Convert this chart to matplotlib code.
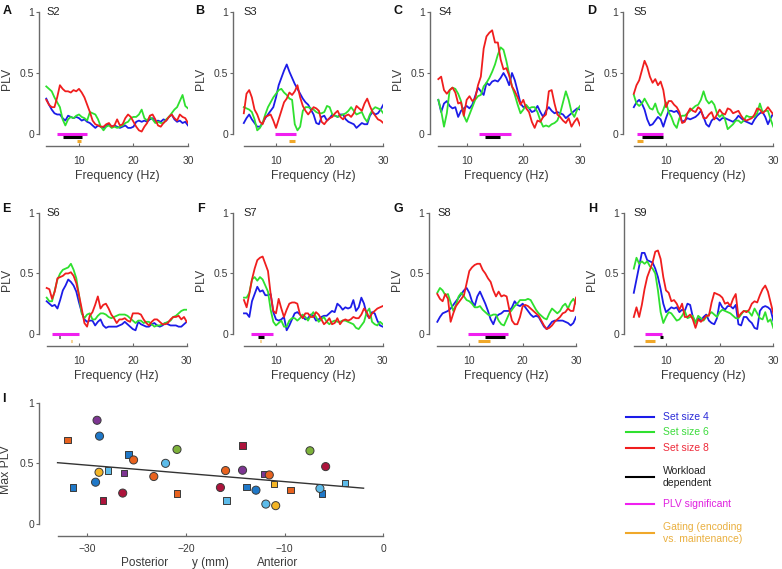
import numpy as np
import matplotlib
matplotlib.use('Agg')
import matplotlib.pyplot as plt

plt.rcParams['font.family'] = ['Liberation Sans', 'DejaVu Sans']

# ---------------- data ----------------
freq = np.arange(4, 30.01, 0.5)      # Hz (S2, S3, S5-S9)
freq_c = np.arange(5, 30.01, 0.5)    # Hz (S4)

s2_blue = [.29,.24,.20,.17,.16,.16,.13,.11,.15,.14,.13,.14,.13,.11,.12,.10,.09,.07,.05,.07,.06,.05,.07,.08,.06,.07,.06,.05,.06,.07,.05,.05,.06,.10,.11,.10,.11,.10,.12,.13,.10,.11,.10,.12,.11,.14,.16,.12,.10,.11,.09,.10,.07]
s2_green = [.39,.37,.35,.30,.26,.22,.12,.07,.12,.14,.13,.15,.16,.14,.13,.11,.18,.17,.16,.12,.06,.03,.06,.07,.05,.06,.05,.06,.07,.09,.10,.13,.14,.14,.16,.20,.13,.11,.14,.12,.09,.10,.09,.09,.12,.14,.17,.20,.22,.27,.32,.23,.21]
s2_red = [.28,.24,.22,.22,.30,.40,.37,.35,.35,.34,.36,.35,.37,.34,.30,.24,.18,.11,.08,.07,.06,.06,.08,.09,.06,.07,.12,.07,.08,.13,.16,.14,.10,.06,.03,.02,.06,.09,.15,.16,.12,.07,.06,.09,.11,.14,.16,.13,.11,.16,.14,.13,.09]

s3_blue = [.09,.13,.16,.12,.09,.06,.06,.09,.13,.16,.19,.22,.30,.40,.46,.52,.57,.51,.46,.41,.37,.33,.29,.26,.24,.20,.16,.09,.08,.14,.15,.11,.13,.16,.15,.14,.16,.16,.12,.10,.09,.08,.05,.07,.09,.08,.08,.15,.18,.16,.17,.20,.24]
s3_green = [.22,.21,.20,.18,.12,.03,.05,.09,.16,.22,.26,.30,.33,.36,.37,.34,.32,.29,.28,.08,.03,.06,.19,.22,.22,.21,.20,.18,.17,.17,.18,.23,.22,.16,.15,.14,.15,.16,.17,.19,.22,.19,.16,.17,.18,.13,.10,.16,.20,.22,.21,.20,.17]
s3_red = [.17,.33,.36,.30,.20,.16,.10,.08,.14,.15,.16,.11,.05,.12,.19,.26,.29,.34,.32,.35,.40,.30,.23,.19,.16,.19,.22,.21,.19,.10,.08,.11,.13,.14,.17,.19,.14,.12,.15,.16,.14,.17,.23,.21,.19,.25,.29,.23,.18,.15,.12,.11,.09]

s4_blue = [.28,.18,.25,.27,.23,.21,.22,.14,.19,.21,.23,.21,.24,.31,.38,.35,.32,.42,.40,.43,.44,.43,.46,.50,.46,.40,.50,.44,.35,.25,.22,.23,.21,.18,.19,.23,.18,.14,.19,.22,.19,.17,.18,.17,.16,.13,.15,.17,.19,.21,.20]
s4_green = [.28,.19,.06,.17,.36,.38,.37,.33,.27,.15,.10,.16,.22,.28,.31,.32,.39,.42,.46,.51,.57,.65,.71,.69,.60,.49,.39,.32,.24,.17,.20,.24,.21,.22,.22,.18,.11,.06,.07,.06,.08,.09,.11,.17,.26,.35,.28,.18,.14,.20,.23]
s4_red = [.45,.47,.36,.33,.36,.38,.34,.25,.26,.15,.28,.31,.27,.29,.40,.47,.70,.80,.83,.85,.75,.75,.61,.53,.54,.48,.39,.35,.30,.24,.28,.21,.18,.10,.05,.11,.10,.14,.16,.35,.36,.25,.16,.14,.11,.09,.13,.06,.10,.13,.07]

s5_blue = [.22,.26,.28,.25,.20,.12,.07,.08,.11,.14,.12,.06,.13,.19,.19,.18,.19,.16,.10,.11,.13,.12,.13,.14,.16,.19,.14,.08,.06,.11,.13,.13,.11,.13,.13,.12,.11,.10,.12,.15,.13,.11,.10,.09,.08,.12,.15,.17,.18,.14,.08,.13,.17]
s5_green = [.32,.25,.23,.25,.29,.25,.21,.20,.25,.18,.15,.20,.26,.18,.14,.08,.05,.13,.15,.15,.17,.19,.21,.23,.24,.28,.35,.28,.25,.27,.24,.17,.14,.16,.12,.04,.06,.08,.11,.11,.09,.11,.15,.14,.14,.14,.17,.25,.18,.19,.19,.12,.06]
s5_red = [.33,.40,.44,.52,.60,.55,.47,.42,.45,.40,.43,.36,.22,.27,.27,.24,.22,.18,.09,.10,.17,.21,.19,.18,.22,.20,.13,.13,.16,.18,.12,.16,.20,.17,.16,.21,.20,.17,.18,.19,.15,.12,.11,.12,.13,.16,.21,.20,.17,.19,.22,.19,.16]

s6_blue = [.27,.25,.23,.24,.21,.28,.36,.40,.45,.43,.40,.35,.26,.18,.12,.10,.11,.11,.07,.10,.12,.07,.05,.06,.06,.06,.06,.07,.08,.10,.08,.06,.04,.03,.10,.08,.07,.06,.06,.08,.09,.07,.06,.07,.09,.08,.07,.07,.07,.06,.06,.08,.10]
s6_green = [.30,.27,.27,.36,.45,.50,.53,.54,.55,.58,.53,.46,.32,.17,.13,.16,.17,.12,.12,.15,.17,.17,.16,.14,.13,.14,.15,.16,.16,.16,.15,.13,.11,.09,.11,.11,.09,.10,.10,.08,.06,.07,.07,.08,.09,.10,.11,.14,.15,.17,.19,.20,.20]
s6_red = [.38,.37,.29,.35,.46,.47,.48,.50,.50,.51,.48,.42,.32,.21,.09,.06,.15,.18,.24,.31,.21,.24,.25,.21,.16,.13,.09,.12,.12,.13,.11,.10,.17,.17,.17,.16,.12,.09,.07,.10,.12,.12,.10,.08,.08,.09,.12,.14,.14,.15,.12,.14,.10]

s7_blue = [.17,.17,.14,.27,.33,.39,.35,.36,.32,.32,.33,.18,.12,.11,.12,.14,.03,.07,.12,.17,.18,.16,.14,.12,.13,.16,.15,.11,.12,.14,.15,.15,.17,.19,.18,.25,.23,.20,.22,.21,.22,.28,.19,.22,.30,.25,.16,.13,.18,.17,.11,.07,.06]
s7_green = [.30,.30,.34,.45,.47,.44,.47,.45,.40,.35,.20,.10,.07,.09,.11,.06,.06,.11,.13,.13,.11,.13,.16,.14,.11,.15,.18,.14,.10,.12,.14,.10,.08,.10,.11,.10,.10,.11,.11,.10,.09,.08,.05,.04,.07,.10,.18,.21,.10,.08,.07,.10,.08]
s7_red = [.28,.22,.33,.45,.54,.61,.63,.64,.58,.52,.33,.19,.17,.29,.21,.14,.20,.25,.26,.26,.25,.16,.13,.17,.17,.14,.14,.18,.16,.12,.08,.10,.13,.08,.09,.13,.08,.11,.12,.11,.12,.14,.13,.13,.16,.21,.18,.13,.17,.19,.21,.22,.23]

s8_blue = [.10,.14,.17,.18,.19,.21,.24,.27,.30,.33,.36,.38,.34,.27,.23,.31,.35,.30,.25,.19,.12,.08,.14,.16,.17,.19,.19,.19,.22,.27,.24,.23,.25,.22,.19,.16,.14,.15,.14,.10,.06,.04,.07,.10,.11,.11,.11,.11,.10,.09,.07,.09,.14]
s8_green = [.34,.38,.36,.32,.33,.26,.19,.24,.31,.34,.31,.28,.27,.25,.22,.22,.23,.20,.18,.16,.15,.16,.16,.11,.08,.07,.12,.17,.20,.23,.25,.28,.28,.28,.29,.28,.24,.20,.17,.15,.13,.12,.17,.21,.19,.17,.19,.23,.25,.21,.26,.29,.25]
s8_red = [.33,.29,.27,.33,.29,.10,.17,.23,.26,.29,.32,.42,.52,.55,.57,.58,.58,.53,.50,.46,.43,.36,.31,.35,.31,.32,.31,.20,.11,.08,.08,.14,.23,.24,.23,.21,.19,.17,.15,.11,.07,.04,.05,.07,.10,.12,.14,.17,.18,.21,.19,.19,.30]

s9_blue = [.34,.45,.56,.67,.67,.61,.60,.59,.54,.47,.37,.25,.18,.20,.22,.21,.22,.18,.20,.19,.25,.24,.14,.10,.13,.11,.14,.16,.11,.09,.08,.13,.26,.22,.20,.23,.23,.21,.24,.08,.07,.14,.14,.11,.09,.05,.04,.19,.22,.23,.22,.20,.11]
s9_green = [.54,.63,.58,.60,.58,.60,.56,.54,.50,.36,.18,.09,.14,.18,.17,.14,.11,.12,.15,.19,.13,.14,.15,.09,.15,.13,.11,.14,.16,.18,.16,.14,.18,.20,.19,.18,.17,.15,.13,.13,.16,.19,.19,.18,.15,.21,.17,.13,.12,.18,.10,.12,.05]
s9_red = [.14,.22,.14,.24,.37,.47,.53,.59,.68,.69,.62,.47,.36,.34,.27,.28,.25,.20,.25,.14,.14,.16,.12,.05,.12,.10,.12,.15,.15,.26,.34,.33,.32,.30,.25,.26,.23,.29,.33,.14,.17,.19,.18,.20,.25,.27,.26,.32,.37,.40,.35,.26,.17]

# frequency ranges (Hz) of the horizontal marker bars: significant PLV, workload dependent, gating
sig_ranges = {'S2': (6.0, 11.5), 'S3': (9.8, 13.7), 'S4': (12.2, 17.8), 'S5': (4.6, 9.5),
              'S6': (4.9, 10.0), 'S7': (5.25, 9.4), 'S8': (9.8, 17.2), 'S9': (6.1, 9.2)}
work_ranges = {'S2': (7.1, 10.5), 'S3': None, 'S4': (13.2, 15.8), 'S5': (5.5, 9.5),
               'S6': (6.25, 6.55), 'S7': (6.7, 7.75), 'S8': (12.9, 16.7), 'S9': (8.8, 9.5)}
gate_ranges = {'S2': (9.6, 10.3), 'S3': (12.4, 13.6), 'S4': None, 'S5': (4.6, 5.8),
               'S6': (8.45, 8.75), 'S7': (7.0, 7.25), 'S8': (11.7, 13.9), 'S9': (6.1, 8.0)}

# panel I: electrode y-coordinate (mm) vs max PLV
elec_y = [-32.0, -29.0, -28.75, -31.45, -29.15, -28.8, -27.9, -28.4, -25.8, -25.3, -26.25, -26.4,
          -23.25, -22.06, -20.9, -20.9, -16.5, -15.98, -15.9, -14.26, -14.26, -13.85, -12.9, -12.1,
          -11.55, -11.1, -11.9, -10.9, -9.4, -7.43, -5.84, -6.42, -6.2, -3.9]
max_plv = [0.693, 0.857, 0.726, 0.301, 0.345, 0.427, 0.441, 0.195, 0.573, 0.529, 0.422, 0.255,
           0.392, 0.501, 0.616, 0.252, 0.301, 0.441, 0.195, 0.444, 0.647, 0.307, 0.279, 0.411,
           0.405, 0.332, 0.164, 0.151, 0.282, 0.605, 0.474, 0.293, 0.252, 0.337]
elec_shape = ['s', 'o', 'o', 's', 'o', 'o', 's', 's', 's', 'o', 's', 'o',
              'o', 'o', 'o', 's', 'o', 'o', 's', 'o', 's', 's', 'o', 's',
              'o', 's', 'o', 'o', 's', 'o', 'o', 'o', 's', 's']
elec_group = ['orange', 'purple', 'blue', 'blue', 'blue', 'yellow', 'lightblue', 'crimson', 'blue', 'orange', 'purple', 'crimson',
              'orange', 'lightblue', 'green', 'orange', 'crimson', 'orange', 'lightblue', 'purple', 'crimson', 'blue', 'blue', 'purple',
              'orange', 'yellow', 'lightblue', 'yellow', 'orange', 'green', 'crimson', 'lightblue', 'blue', 'lightblue']

legend_labels = ['Set size 4', 'Set size 6', 'Set size 8', 'Workload\ndependent',
                 'PLV significant', 'Gating (encoding\nvs. maintenance)']

# ---------------- styles ----------------
C_BLUE, C_GREEN, C_RED = '#1c1ce8', '#2fe02f', '#f01e1e'
C_SIG, C_WORK, C_GATE = '#f020f0', '#000000', '#f0a82a'
PAL = {'orange': '#e8621e', 'purple': '#7d3592', 'blue': '#1f78c8', 'lightblue': '#5cbbe9',
       'yellow': '#f4b526', 'crimson': '#ad143c', 'green': '#7db23a'}
SPINE = '#6a6a6a'
TXT = '#3a3a3a'

W, H = 782, 569
fig = plt.figure(figsize=(W / 100, H / 100), dpi=100)


def px_axes(l, r, t, b):
    return fig.add_axes([l / W, 1 - b / H, (r - l) / W, (b - t) / H])


def style(ax, xb, yb):
    for s in ('top', 'right'):
        ax.spines[s].set_visible(False)
    for s in ('left', 'bottom'):
        ax.spines[s].set_color(SPINE)
        ax.spines[s].set_linewidth(1.0)
    ax.spines['bottom'].set_bounds(*xb)
    ax.spines['left'].set_bounds(*yb)
    ax.tick_params(axis='x', direction='in', length=2.5, pad=7, labelsize=7.5,
                   color=SPINE, labelcolor=TXT)
    ax.tick_params(axis='y', direction='out', length=2.2, pad=1.5, labelsize=7.5,
                   color=SPINE, labelcolor=TXT)


# (letter, subject, freq array, blue, green, red, left_px, right_px, top_px, bottom_px, xlim_left)
panels = [
    ('A', 'S2', freq, s2_blue, s2_green, s2_red, 39.3, 188.0, 12, 146.2, 2.72),
    ('B', 'S3', freq, s3_blue, s3_green, s3_red, 233.3, 383.3, 12, 146.2, 2.04),
    ('C', 'S4', freq_c, s4_blue, s4_green, s4_red, 430.0, 580.0, 12, 146.2, 3.53),
    ('D', 'S5', freq, s5_blue, s5_green, s5_red, 623.3, 773.3, 12, 146.2, 2.04),
    ('E', 'S6', freq, s6_blue, s6_green, s6_red, 39.3, 186.7, 213, 346, 2.63),
    ('F', 'S7', freq, s7_blue, s7_green, s7_red, 233.3, 382.7, 213, 346, 2.0),
    ('G', 'S8', freq, s8_blue, s8_green, s8_red, 429.3, 576.0, 213, 346, 2.5),
    ('H', 'S9', freq, s9_blue, s9_green, s9_red, 624.3, 773.3, 213, 346, 2.23),
]

for letter, subj, f, b, g, r, l, rr, t, bt, xl in panels:
    ax = px_axes(l, rr, t, bt)
    ax.set_xlim(xl, 30)
    ax.set_ylim(-0.1, 1.0)
    ax.plot(f, b, color=C_BLUE, lw=1.3)
    ax.plot(f, g, color=C_GREEN, lw=1.3)
    ax.plot(f, r, color=C_RED, lw=1.3)
    for rng, yv, col in ((sig_ranges[subj], 0.0, C_SIG), (work_ranges[subj], -0.026, C_WORK),
                         (gate_ranges[subj], -0.056, C_GATE)):
        if rng is not None:
            ax.plot(rng, [yv, yv], color=col, lw=2.2, solid_capstyle='butt')
    style(ax, (f[0], 30), (0, 1))
    ax.set_xticks([10, 20, 30])
    ax.set_yticks([0, 0.5, 1])
    ax.set_yticklabels(['0', '0.5', '1'])
    ax.set_xlabel('Frequency (Hz)', fontsize=8.8, color=TXT, va='center')
    ax.xaxis.set_label_coords((17 - xl) / (30 - xl), -0.222)
    ax.set_ylabel('PLV', fontsize=8.8, color=TXT, va='center')
    ax.yaxis.set_label_coords(-32.5 / (rr - l), 0.5)
    ax.text(f[0], 1.0, subj, fontsize=8, color='#222222', ha='left', va='center')
    fig.text({'A': 3, 'B': 195, 'C': 393, 'D': 587, 'E': 2, 'F': 197, 'G': 393, 'H': 588}[letter] / W,
             1 - (11 if t < 100 else 209) / H, letter, fontsize=9, fontweight='bold',
             ha='left', va='center', color='#111111')

# ---------------- panel I ----------------
axI = px_axes(39.3, 383.3, 403, 536)
axI.set_xlim(-34.85, 0)
axI.set_ylim(-0.1, 1.0)
ex = np.array(elec_y)
ey = np.array(max_plv)
coef = np.polyfit(ex, ey, 1)
xx = np.array([-33.0, -2.0])
axI.plot(xx, np.polyval(coef, xx), color='#333333', lw=1.0, zorder=2)
for shp in ('s', 'o'):
    idx = [i for i, s in enumerate(elec_shape) if s == shp]
    axI.scatter(ex[idx], ey[idx], marker=shp, s=21 if shp == 's' else 34,
                c=[PAL[elec_group[i]] for i in idx], edgecolors='#3a3a3a', linewidths=0.7, zorder=3)
style(axI, (-33, 0), (0, 1))
axI.tick_params(axis='x', pad=6)
axI.set_xticks([-30, -20, -10, 0])
axI.set_xticklabels(['\u221230', '\u221220', '\u221210', '0'])
axI.set_yticks([0, 0.5, 1])
axI.set_yticklabels(['0', '0.5', '1'])
axI.set_ylabel('Max PLV', fontsize=8.8, color=TXT, va='center')
axI.yaxis.set_label_coords(-33 / 344, 0.5)
fig.text(2 / W, 1 - 399 / H, 'I', fontsize=9, fontweight='bold', ha='left', va='center', color='#111111')
for xp, s in ((145, 'Posterior'), (210, 'y (mm)'), (278, 'Anterior')):
    fig.text(xp / W, 1 - 566 / H, s, fontsize=8.5, color=TXT, ha='center', va='baseline')

# ---------------- legend ----------------
axL = fig.add_axes([0, 0, 1, 1])
axL.set_xlim(0, W)
axL.set_ylim(H, 0)
axL.axis('off')
leg_rows = [417, 432, 448, 477, 504, 533]
leg_cols = [C_BLUE, C_GREEN, C_RED, C_WORK, C_SIG, C_GATE]
leg_txt = ['#2a2ad8', '#3cdc3c', '#ee2a3a', '#222222', '#e020e0', '#eab040']
for yv, lab, lc, tc in zip(leg_rows, legend_labels, leg_cols, leg_txt):
    axL.plot([626, 654], [yv, yv], color=lc, lw=1.5)
    axL.text(663, yv, lab, fontsize=7.5, color=tc, ha='left', va='center', linespacing=1.25)

fig.savefig('out.png', dpi=100)
